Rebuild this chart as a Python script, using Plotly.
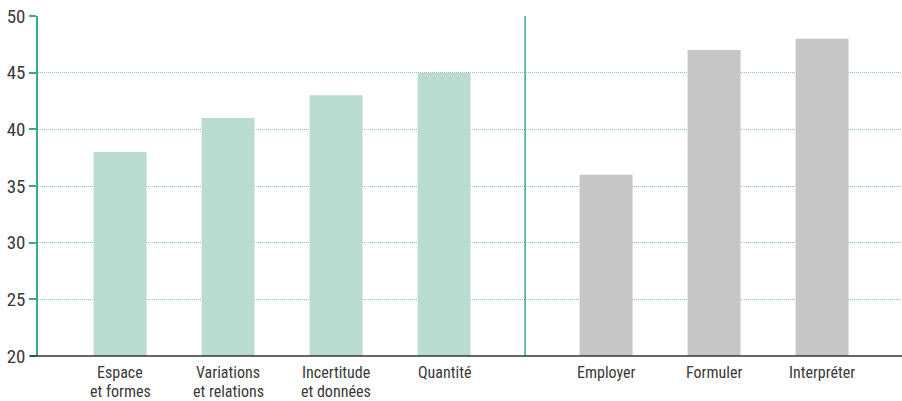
import plotly.graph_objects as go

labels_line1 = ["Espace", "Variations", "Incertitude", "Quantité", "Employer", "Formuler", "Interpréter"]
labels_line2 = ["et formes", "et relations", "et données", "", "", "", ""]
positions = [0, 1, 2, 3, 4.5, 5.5, 6.5]
values = [38, 41, 43, 45, 36, 47, 48]
colors = ["#b9dbd1"] * 4 + ["#c6c6c6"] * 3
y_ticks = [20, 25, 30, 35, 40, 45, 50]

FONT = "Liberation Sans Narrow, Roboto Condensed, Arial Narrow, Liberation Sans, sans-serif"
TEAL = "#3aa98a"
TXT = "#3a3a3a"

fig = go.Figure()
fig.add_trace(go.Bar(x=positions, y=values, marker=dict(color=colors, line=dict(width=0)),
                     width=0.49, hoverinfo="skip"))

fig.add_shape(type="line", xref="x", yref="paper", x0=3.75, x1=3.75, y0=0, y1=1,
              line=dict(color=TEAL, width=1.5))
fig.add_shape(type="line", xref="paper", yref="paper", x0=-8/864, x1=1, y0=0, y1=0,
              line=dict(color="#333333", width=1.5))

for p, l1, l2 in zip(positions, labels_line1, labels_line2):
    fig.add_annotation(x=p, y=0, xref="x", yref="paper", text=l1, showarrow=False,
                       yanchor="middle", yshift=-16, borderpad=0,
                       font=dict(family=FONT, size=16, color=TXT))
    if l2:
        fig.add_annotation(x=p, y=0, xref="x", yref="paper", text=l2, showarrow=False,
                           yanchor="middle", yshift=-35, borderpad=0,
                           font=dict(family=FONT, size=16, color=TXT))

fig.update_layout(
    width=902, height=401,
    margin=dict(l=38, r=0, t=16, b=45),
    paper_bgcolor="white", plot_bgcolor="white",
    showlegend=False,
    font=dict(family=FONT, size=16, color=TXT),
    xaxis=dict(range=[-0.76, 7.24], showticklabels=False,
               showgrid=False, zeroline=False, showline=False, ticks="",
               automargin=False, fixedrange=True),
    yaxis=dict(range=[20, 50], tickvals=y_ticks, showgrid=True,
               gridcolor="#86c9b5", griddash="1px,1px", gridwidth=1,
               zeroline=False, showline=True, linecolor=TEAL, linewidth=1.5,
               ticks="outside", ticklen=7, tickcolor=TEAL, tickwidth=1.5,
               automargin=False,
               tickfont=dict(family=FONT, size=19, color=TXT), fixedrange=True),
)

fig.write_html("out.html", config={"displayModeBar": False},
               post_script="document.body.style.margin='0';document.body.style.padding='0';")
